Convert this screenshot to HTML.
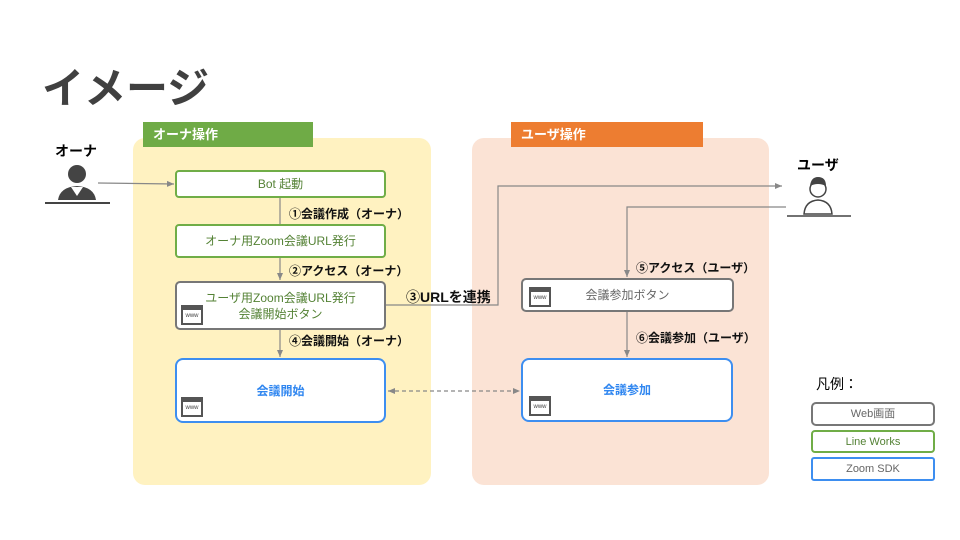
<!DOCTYPE html>
<html><head><meta charset="utf-8"><style>
body{margin:0;width:960px;height:540px;background:#fff;position:relative;overflow:hidden;font-family:"Liberation Sans","Noto Sans CJK JP",sans-serif}
.a{position:absolute}
.box{position:absolute;box-sizing:border-box;background:#fff;display:flex;align-items:center;justify-content:center;text-align:center;font-size:12px;line-height:16px}
.g{border:2px solid #70ad47;border-radius:4px;color:#548235}
.k{border:2px solid #777;border-radius:5px}
.b{border:2px solid #3d8ef0;border-radius:8px;color:#2f86f0;font-weight:bold}
.lbl{position:absolute;font-size:12px;font-weight:bold;color:#111;white-space:nowrap}
.www{position:absolute;width:22px;height:20px;border:2px solid #555;box-sizing:border-box;background:#fff;border-top:5px solid #555;font-size:6px;line-height:12px;text-align:center;color:#444}
</style></head><body>
<div class="a" style="left:42px;top:55px;font-size:42px;font-weight:bold;color:#404040">イメージ</div>
<div class="a" style="left:133px;top:138px;width:298px;height:347px;background:#fff2c1;border-radius:12px"></div>
<div class="a" style="left:143px;top:122px;width:170px;height:25px;background:#6fab46;color:#fff;font-weight:bold;font-size:13px;line-height:25px;padding-left:10px;box-sizing:border-box">オーナ操作</div>
<div class="a" style="left:472px;top:138px;width:297px;height:347px;background:#fbe3d5;border-radius:12px"></div>
<div class="a" style="left:511px;top:122px;width:192px;height:25px;background:#ed7d31;color:#fff;font-weight:bold;font-size:13px;line-height:25px;padding-left:10px;box-sizing:border-box">ユーザ操作</div>

<svg class="a" style="left:0;top:0" width="960" height="540">
<defs><marker id="m" markerWidth="8" markerHeight="8" refX="7" refY="4" orient="auto-start-reverse" markerUnits="userSpaceOnUse"><path d="M0,1 L7,4 L0,7z" fill="#888"/></marker></defs>
<g stroke="#888" stroke-width="1.2" fill="none">
<line x1="98" y1="183" x2="174" y2="184" marker-end="url(#m)"/>
<line x1="280" y1="198" x2="280" y2="224"/>
<line x1="280" y1="258" x2="280" y2="280" marker-end="url(#m)"/>
<line x1="280" y1="330" x2="280" y2="357" marker-end="url(#m)"/>
<polyline points="386,305 498,305 498,186 782,186" marker-end="url(#m)"/>
<polyline points="786,207 627,207 627,277" marker-end="url(#m)"/>
<line x1="627" y1="312" x2="627" y2="357" marker-end="url(#m)"/>
<line x1="388" y1="391" x2="520" y2="391" stroke-dasharray="4,3" marker-start="url(#m)" marker-end="url(#m)"/>
</g>
<g fill="#444"><circle cx="77" cy="174" r="9"/><path d="M58,200 Q60,187 77,186 Q94,187 96,200z"/></g>
<path d="M71,187 L77,196 L83,187" fill="#fff"/>
<line x1="45" y1="203" x2="110" y2="203" stroke="#444" stroke-width="2"/>
<g fill="none" stroke="#444" stroke-width="1.5"><circle cx="818" cy="189" r="8"/><path d="M804,214 Q805,201 818,200 Q831,201 832,214z"/></g>
<path d="M810,186 Q811,177 818,177 Q826,177 826,186 Q818,182 810,186z" fill="#444"/>
<line x1="787" y1="216" x2="851" y2="216" stroke="#444" stroke-width="1.5"/>
</svg>

<div class="a" style="left:55px;top:141px;font-weight:bold;font-size:14px">オーナ</div>
<div class="a" style="left:797px;top:155px;font-weight:bold;font-size:14px">ユーザ</div>

<div class="box g" style="left:175px;top:170px;width:211px;height:28px">Bot 起動</div>
<div class="box g" style="left:175px;top:224px;width:211px;height:34px">オーナ用Zoom会議URL発行</div>
<div class="box k" style="left:175px;top:281px;width:211px;height:49px;color:#548235">ユーザ用Zoom会議URL発行<br>会議開始ボタン</div>
<div class="www" style="left:181px;top:305px">www</div>
<div class="box b" style="left:175px;top:358px;width:211px;height:65px">会議開始</div>
<div class="www" style="left:181px;top:397px">www</div>
<div class="box k" style="left:521px;top:278px;width:213px;height:34px;color:#666">会議参加ボタン</div>
<div class="www" style="left:529px;top:287px">www</div>
<div class="box b" style="left:521px;top:358px;width:212px;height:64px">会議参加</div>
<div class="www" style="left:529px;top:396px">www</div>

<div class="lbl" style="left:289px;top:205px">①会議作成（オーナ）</div>
<div class="lbl" style="left:289px;top:262px">②アクセス（オーナ）</div>
<div class="lbl" style="left:406px;top:287px;font-size:14px">③URLを連携</div>
<div class="lbl" style="left:289px;top:332px">④会議開始（オーナ）</div>
<div class="lbl" style="left:636px;top:259px">⑤アクセス（ユーザ）</div>
<div class="lbl" style="left:636px;top:329px">⑥会議参加（ユーザ）</div>

<div class="a" style="left:816px;top:374px;font-size:14px">凡例：</div>
<div class="box k" style="left:811px;top:402px;width:124px;height:24px;color:#666;font-size:11px">Web画面</div>
<div class="box g" style="left:811px;top:430px;width:124px;height:23px;font-size:11px">Line Works</div>
<div class="box" style="left:811px;top:457px;width:124px;height:24px;border:2px solid #3d8ef0;border-radius:3px;color:#666;font-size:11px">Zoom SDK</div>
</body></html>
